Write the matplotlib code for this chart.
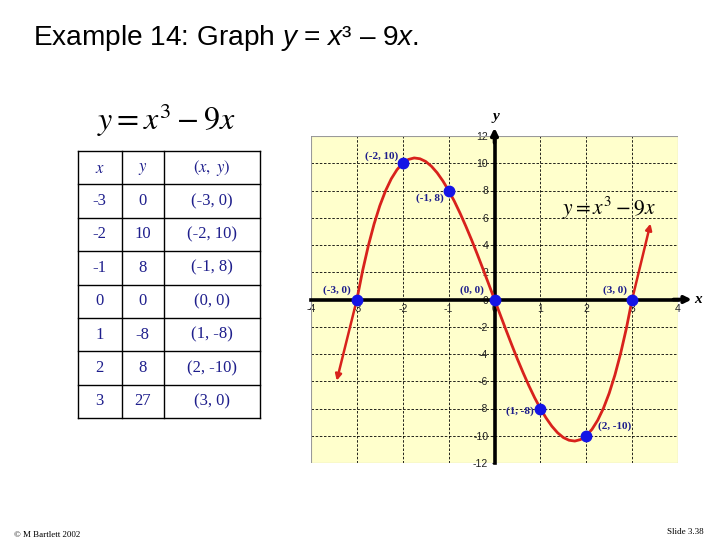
import matplotlib
matplotlib.use("Agg")
import matplotlib.pyplot as plt
from matplotlib.patches import Rectangle

plt.rcParams["mathtext.fontset"] = "custom"
plt.rcParams["mathtext.rm"] = "Liberation Sans"
plt.rcParams["mathtext.it"] = "Liberation Sans:italic"
plt.rcParams["axes.unicode_minus"] = False

# table data (as printed on the slide)
x_vals = [-3, -2, -1, 0, 1, 2, 3]
y_true = [0, 10, 8, 0, -8, -10, 0]
y_col = ["0", "10", "8", "0", "-8", "8", "27"]
pair_col = ["(-3, 0)", "(-2, 10)", "(-1, 8)", "(0, 0)", "(1, -8)", "(2, -10)", "(3, 0)"]

# curve
curve_x = [-3, -2.875, -2.75, -2.625, -2.5, -2.375, -2.25, -2.125, -2, -1.875, -1.75,
           -1.625, -1.5, -1.375, -1.25, -1.125, -1, -0.875, -0.75, -0.625, -0.5,
           -0.375, -0.25, -0.125, 0,
           0.125, 0.25, 0.375, 0.5, 0.625, 0.75, 0.875, 1, 1.125, 1.25, 1.375, 1.5,
           1.625, 1.75, 1.875, 2, 2.125, 2.25, 2.375, 2.5, 2.625, 2.75, 2.875, 3]
curve_y = [0, 2.11, 3.95, 5.54, 6.88, 7.98, 8.86, 9.53, 10, 10.28, 10.39,
           10.33, 10.13, 9.78, 9.3, 8.7, 8, 7.21, 6.33, 5.38, 4.38,
           3.32, 2.23, 1.12, 0,
           -1.12, -2.23, -3.32, -4.38, -5.38, -6.33, -7.21, -8, -8.7, -9.3, -9.78, -10.13,
           -10.33, -10.39, -10.28, -10, -9.53, -8.86, -7.98, -6.88, -5.54, -3.95, -2.11, 0]
arrow_left = (-3.44, -5.96)
arrow_right = (3.40, 5.57)

# point label offsets (pixels)
label_offsets = [(-20, 9), (-21, 7), (-19, -8), (-23, 9), (-20, -3), (28, 10), (-17, 9)]

x_ticks = [-4, -3, -2, -1, 0, 1, 2, 3, 4]
y_ticks = [-12, -10, -8, -6, -4, -2, 0, 2, 4, 6, 8, 10, 12]

RED = "#d8221c"
BLUE = "#1414e6"
NAVY = "#1e1e8c"

W, H = 728, 546
fig = plt.figure(figsize=(W / 100, H / 100), dpi=100)

# --- title and footer ---
fig.text(33 / W, 1 - 38 / H, r"Example 14: Graph $y$ = $x$³ – 9$x$.",
         fontsize=20.2, family="Liberation Sans", va="center", ha="left")
fig.text(14 / W, 1 - 535 / H, "© M Bartlett 2002", fontsize=6.5,
         family="Liberation Serif", va="center", ha="left")
fig.text(704 / W, 1 - 532 / H, "Slide 3.38", fontsize=6.5,
         family="Liberation Serif", va="center", ha="right")

# --- table ---
fig.text(166 / W, 1 - 120 / H, r"$y = x^3 - 9x$", fontsize=23,
         math_fontfamily="stix", ha="center", va="center")

tab = fig.add_axes([78 / W, 1 - 418 / H, 182 / W, 267 / H])
tab.set_xlim(78, 260)
tab.set_ylim(418, 151)
tab.axis("off")
col_edges = [78, 121.5, 163.5, 260]
n_rows = len(x_vals) + 1
row_h = (418 - 151) / n_rows
for cx in col_edges:
    tab.plot([cx, cx], [151, 418], color="black", lw=1, solid_capstyle="projecting",
             clip_on=False)
for r in range(n_rows + 1):
    tab.plot([78, 260], [151 + r * row_h] * 2, color="black", lw=1,
             solid_capstyle="projecting", clip_on=False)
centers = [(col_edges[i] + col_edges[i + 1]) / 2 for i in range(3)]
headers = [r"$x$", r"$y$", r"$(x,\ y)$"]
for c, htxt in zip(centers, headers):
    tab.text(c, 151 + row_h / 2, htxt, fontsize=12, math_fontfamily="stix",
             color=NAVY, ha="center", va="center")
for i in range(len(x_vals)):
    yc = 151 + (i + 1.5) * row_h
    for c, txt in zip(centers, [str(x_vals[i]), y_col[i], pair_col[i]]):
        tab.text(c, yc, txt, fontsize=12, family="Liberation Serif",
                 color=NAVY, ha="center", va="center")

# --- graph ---
ax = fig.add_axes([311 / W, 1 - 463 / H, 367 / W, 327 / H])
ax.set_facecolor("#ffffcc")
ax.set_xlim(-4, 4)
ax.set_ylim(-12, 12)
ax.set_xticks(x_ticks)
ax.set_yticks(y_ticks)
ax.grid(True, color="black", lw=0.6, linestyle=(0, (3, 2)))
ax.set_axisbelow(True)
for side in ["top", "right"]:
    ax.spines[side].set_visible(False)
for side in ["left", "bottom"]:
    ax.spines[side].set_position("zero")
    ax.spines[side].set_linewidth(2.6)
ax.add_patch(Rectangle((0, 0), 1, 1, transform=ax.transAxes, fill=False,
                       edgecolor="#9a9a9a", lw=0.8, zorder=1))
ax.tick_params(axis="both", labelsize=7.5, colors="#222222", length=2.5, width=0.8)
ax.tick_params(axis="x", pad=3, length=0)
ax.tick_params(axis="y", pad=2)
for lab in ax.get_xticklabels() + ax.get_yticklabels():
    lab.set_family("Liberation Sans")

# axis arrowheads
ax.annotate("", xy=(4.3, 0), xytext=(3.9, 0), annotation_clip=False,
            arrowprops=dict(arrowstyle="-|>", color="black", lw=2.6,
                            mutation_scale=10, shrinkA=0, shrinkB=0))
ax.annotate("", xy=(0, 12.6), xytext=(0, 11.5), annotation_clip=False,
            arrowprops=dict(arrowstyle="-|>", color="black", lw=2.6,
                            mutation_scale=10, shrinkA=0, shrinkB=0))
ax.text(4.35, 0, "x", fontsize=11, family="Liberation Serif",
        style="italic", weight="bold", va="center", ha="left", clip_on=False)
ax.text(0.02, 13.4, "y", fontsize=11, family="Liberation Serif",
        style="italic", weight="bold", va="center", ha="center", clip_on=False)

# curve
ax.plot(curve_x, curve_y, color=RED, lw=2, zorder=4, solid_capstyle="round",
        solid_joinstyle="round")
for tip, start in [(arrow_left, (x_vals[0], y_true[0])), (arrow_right, (x_vals[-1], y_true[-1]))]:
    ax.annotate("", xy=tip, xytext=start, annotation_clip=False,
                arrowprops=dict(arrowstyle="-|>", color=RED, lw=1.8,
                                mutation_scale=9, shrinkA=0, shrinkB=0), zorder=4)

ax.plot(x_vals, y_true, "o", color=BLUE, markersize=7.5, zorder=5)
for xv, yv, txt, (dx, dy) in zip(x_vals, y_true, pair_col, label_offsets):
    ax.annotate(txt, (xv, yv), xytext=(dx * 0.72, dy * 0.72), textcoords="offset points",
                fontsize=8, family="Liberation Serif", weight="bold", color=NAVY,
                ha="center", va="center", zorder=6)

fig.text(609 / W, 1 - 208 / H, r"$y = x^3 - 9x$", fontsize=15.5,
         math_fontfamily="stix", ha="center", va="center")

fig.savefig("out.png", dpi=100)
